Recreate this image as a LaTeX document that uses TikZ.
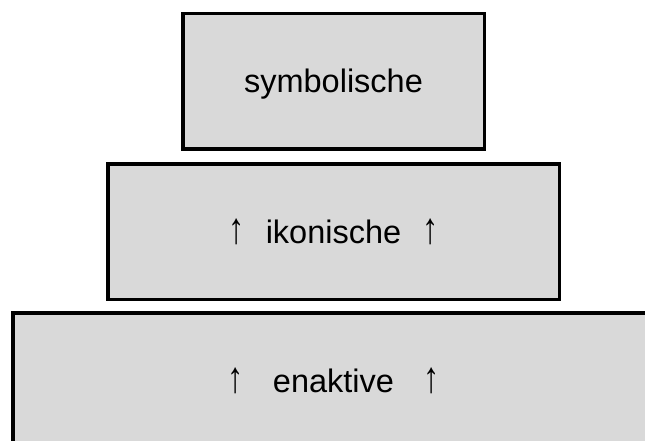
\documentclass[tikz,border=0pt]{standalone}
\usepackage{fontspec}
\usepackage{graphicx}
\setmainfont{Liberation Sans}
\definecolor{boxgray}{HTML}{D9D9D9}
% upward arrow, stretched to cap height
\newcommand{\uparr}{\scalebox{1}[1.35]{↑}}
\begin{document}
\begin{tikzpicture}[x=1pt,y=1pt,
  layer/.style={rectangle, draw=black, line width=3.5pt, fill=boxgray,
    inner sep=0pt, text height=23pt, text depth=0pt,
    font=\fontsize{32.5}{38}\selectfont}]
\useasboundingbox (0,0) rectangle (645,-441);
\clip (0,0) rectangle (645,-441);
% three stacked levels, widest at the bottom
\node[layer, minimum width=301.5pt, minimum height=135.5pt] (sym) at (333.5,-81.5)
  {symbolische};
\node[layer, minimum width=451.5pt, minimum height=135.5pt] (iko) at (333.5,-231.5)
  {\uparr\hspace{21pt}ikonische\hspace{21pt}\uparr};
\node[layer, minimum width=641.5pt, minimum height=135.5pt] (ena) at (333.5,-380.5)
  {\uparr\hspace{29pt}enaktive\hspace{29pt}\uparr};
\end{tikzpicture}
\end{document}
